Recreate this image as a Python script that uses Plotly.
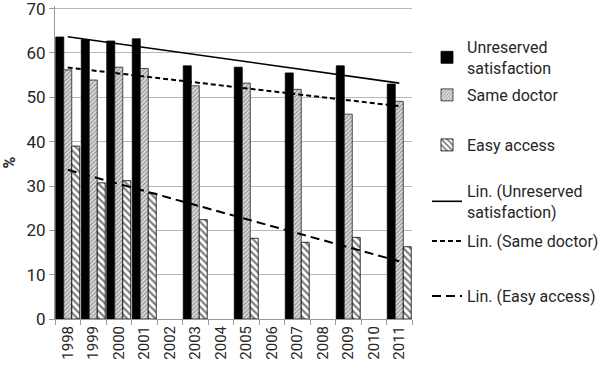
import numpy as np
import plotly.graph_objects as go

years = [str(y) for y in range(1998, 2012)]
unreserved = [63.6, 63.0, 62.7, 63.2, None, 57.1, None, 56.8, None, 55.5, None, 57.1, None, 53.0]
same_doctor = [56.2, 53.9, 56.8, 56.5, None, 52.6, None, 53.2, None, 51.8, None, 46.2, None, 49.1]
easy_access = [39.0, 30.7, 31.2, 28.4, None, 22.4, None, 18.2, None, 17.3, None, 18.4, None, 16.3]

def trend(vals):
    idx = np.arange(1, len(vals) + 1)
    xs = np.array([i for i, v in zip(idx, vals) if v is not None], dtype=float)
    ys = np.array([v for v in vals if v is not None], dtype=float)
    a, b = np.polyfit(xs, ys, 1)
    return [a * i + b for i in idx]

FONT = "Roboto"
TXT = "#262626"
AX = "#9a9a9a"

fig = go.Figure()
fig.add_trace(go.Bar(x=years, y=unreserved, name="Unreserved<br>satisfaction",
                     marker=dict(color="black", line=dict(color="black", width=0.8)),
                     legend="legend"))
fig.add_trace(go.Bar(x=years, y=same_doctor, name="Same doctor",
                     marker=dict(color="#d0d0d0", line=dict(color="#202020", width=0.8),
                                 pattern=dict(shape="/", fgcolor="#3a3a3a", bgcolor="#dcdcdc",
                                              size=3, solidity=0.35)),
                     legend="legend2"))
fig.add_trace(go.Bar(x=years, y=easy_access, name="Easy access",
                     marker=dict(color="white", line=dict(color="black", width=0.8),
                                 pattern=dict(shape="\\", fgcolor="black", bgcolor="white",
                                              size=5, solidity=0.45)),
                     legend="legend3"))
fig.add_trace(go.Scatter(x=years, y=trend(unreserved), mode="lines",
                         name="Lin. (Unreserved<br>satisfaction)",
                         line=dict(color="black", width=1.6), legend="legend4"))
fig.add_trace(go.Scatter(x=years, y=trend(same_doctor), mode="lines",
                         name="Lin. (Same doctor)",
                         line=dict(color="black", width=2, dash="5px,3px"), legend="legend5"))
fig.add_trace(go.Scatter(x=years, y=trend(easy_access), mode="lines",
                         name="Lin. (Easy access)",
                         line=dict(color="black", width=2, dash="9px,5px"), legend="legend6"))

def leg(top):
    return dict(xref="container", yref="container", x=427 / 600, y=1 - top / 367,
                xanchor="left", yanchor="top", bgcolor="rgba(0,0,0,0)",
                font=dict(family=FONT, size=16, color=TXT), borderwidth=0,
                itemwidth=30)

fig.update_layout(
    width=600, height=367,
    margin=dict(l=55, r=188, t=6, b=48),
    paper_bgcolor="white", plot_bgcolor="white",
    barmode="group", bargap=0.06, bargroupgap=0,
    font=dict(family=FONT, size=15, color=TXT),
    showlegend=True,
    legend=leg(30), legend2=leg(78), legend3=leg(128),
    legend4=leg(174), legend5=leg(224), legend6=leg(279),
    xaxis=dict(type="category", tickangle=-90, ticks="outside", tickson="boundaries",
               ticklen=5, tickcolor=AX, showline=True, linecolor=AX,
               showgrid=False, automargin=False, ticklabeloverflow="allow",
               tickfont=dict(family=FONT, size=15, color=TXT)),
    yaxis=dict(range=[0, 70.6], tickvals=[0, 10, 20, 30, 40, 50, 60, 70],
               showgrid=True, gridcolor="#b8b8b8", ticklabeloverflow="allow",
               showline=True, linecolor=AX, zeroline=False, ticks="outside", ticklen=5,
               tickcolor=AX, automargin=False,
               tickfont=dict(family=FONT, size=17, color=TXT),
               title=dict(text="<b>%</b>", font=dict(family=FONT, size=16, color=TXT), standoff=14)),
)

fig.write_html("out.html", config={"displayModeBar": False},
               post_script="document.body.style.margin='0px';")
